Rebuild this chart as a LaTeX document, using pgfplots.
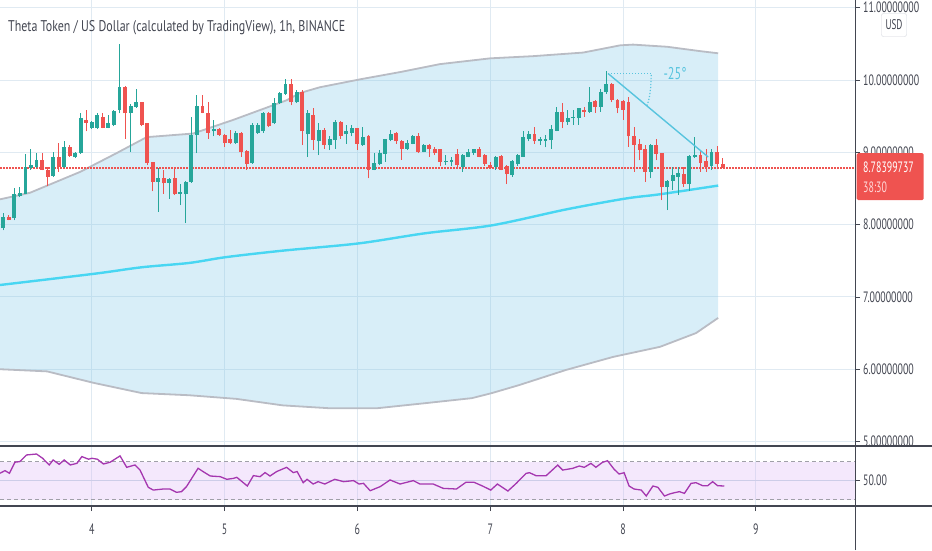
\documentclass[border=0pt]{standalone}
\usepackage{fontspec}
\setmainfont{PT Sans}
\usepackage{graphicx}
\usepackage{pgfplots}
\pgfplotsset{compat=1.18}
\usepackage{pgfplotstable}

\definecolor{cgreen}{RGB}{38,166,154}
\definecolor{cred}{RGB}{239,83,80}
\definecolor{gridc}{RGB}{224,234,242}
\definecolor{bandline}{RGB}{185,188,196}
\definecolor{bandfill}{RGB}{125,198,232}
\definecolor{midc}{RGB}{72,214,242}
\definecolor{trendc}{RGB}{88,196,222}
\definecolor{txtc}{RGB}{67,70,81}
\definecolor{sepc}{RGB}{67,70,81}
\definecolor{rsic}{RGB}{165,55,175}
\definecolor{rsifill}{RGB}{218,178,245}
\definecolor{rsimid}{RGB}{205,205,232}
\definecolor{rsidash}{RGB}{160,160,168}
\definecolor{usdborder}{RGB}{209,212,220}
\definecolor{pinkw}{RGB}{255,214,214}

\newcommand\sq[1]{\scalebox{0.66}[1]{#1}}

% green (up) candles: hour open high low close
\pgfplotstableread{
t O H L C
80 7.95 8.16 7.92 8.11
82 8.09 8.50 8.06 8.43
83 8.39 8.52 8.38 8.44
84 8.43 8.98 8.42 8.80
85 8.78 9.05 8.76 8.83
86 8.80 8.99 8.79 8.90
89 8.67 9.01 8.66 8.94
91 8.80 9.15 8.79 9.08
93 8.93 9.01 8.92 8.99
94 8.99 9.54 8.98 9.47
96 9.33 9.44 9.32 9.42
97 9.33 9.54 9.32 9.52
99 9.34 9.52 9.33 9.40
100 9.38 9.59 9.36 9.57
101 9.59 10.50 9.54 9.90
103 9.54 9.67 9.01 9.64
104 9.63 9.87 9.62 9.69
108 8.59 8.78 8.18 8.65
110 8.58 8.64 8.36 8.63
112 8.43 8.56 8.27 8.45
113 8.42 8.60 8.02 8.59
114 8.59 9.49 8.58 9.24
115 9.24 9.79 8.99 9.64
118 9.29 9.45 9.22 9.32
122 9.13 9.29 9.12 9.27
125 8.85 9.40 8.84 9.38
126 9.27 9.41 9.26 9.38
127 9.29 9.56 9.27 9.55
129 9.40 9.75 9.39 9.68
130 9.68 9.83 9.67 9.82
131 9.81 10.01 9.79 9.94
133 9.69 9.86 9.68 9.84
135 9.25 9.59 8.94 9.54
137 9.15 9.40 8.96 9.31
139 9.10 9.22 9.03 9.18
140 9.17 9.45 9.05 9.42
142 9.25 9.38 9.12 9.30
143 9.27 9.38 9.22 9.33
145 9.10 9.35 9.09 9.21
147 8.76 8.99 8.75 8.85
148 8.84 9.03 8.82 8.99
149 8.98 9.19 8.87 9.18
150 9.17 9.31 9.15 9.26
153 9.05 9.17 9.03 9.13
154 9.12 9.24 9.11 9.23
156 9.01 9.11 9.00 9.10
160 8.86 8.96 8.82 8.88
161 8.87 8.94 8.81 8.90
163 8.80 8.97 8.73 8.96
164 8.94 9.05 8.93 9.01
165 8.99 9.05 8.96 9.04
169 8.80 8.95 8.76 8.94
172 8.69 8.89 8.66 8.88
173 8.84 8.97 8.81 8.96
174 8.94 9.29 8.94 9.21
175 9.19 9.30 9.15 9.25
177 9.15 9.21 9.10 9.19
178 9.16 9.24 9.07 9.19
179 9.17 9.38 9.05 9.32
180 9.30 9.63 9.29 9.56
182 9.42 9.59 9.38 9.48
183 9.47 9.59 9.38 9.49
184 9.47 9.62 9.38 9.61
186 9.56 9.91 9.55 9.70
188 9.63 9.88 9.56 9.84
189 9.83 10.12 9.81 9.95
197 8.73 9.11 8.64 9.10
200 8.52 8.62 8.20 8.61
201 8.61 8.80 8.48 8.69
202 8.66 8.80 8.41 8.71
204 8.56 8.96 8.47 8.95
205 8.93 9.21 8.92 8.96
208 8.81 9.05 8.76 9.01
}\upc

% red (down) candles: hour open high low close
\pgfplotstableread{
t O H L C
81 8.11 8.13 8.06 8.07
87 8.90 8.99 8.75 8.76
88 8.76 8.80 8.53 8.66
90 8.94 9.13 8.73 8.80
92 9.08 9.10 8.94 8.95
95 9.45 9.59 9.29 9.41
98 9.49 9.54 9.33 9.34
102 9.90 9.92 9.19 9.54
105 9.69 9.70 9.36 9.38
106 9.40 9.41 8.82 8.85
107 8.87 8.87 8.46 8.59
109 8.65 8.76 8.43 8.57
111 8.64 8.80 8.41 8.42
116 9.64 9.79 9.54 9.55
117 9.55 9.69 9.19 9.27
119 9.32 9.33 9.23 9.24
120 9.24 9.26 9.08 9.13
121 9.18 9.31 9.11 9.13
123 9.27 9.28 8.94 9.01
124 9.02 9.03 8.76 8.84
128 9.55 9.56 9.35 9.36
132 9.94 10.01 9.65 9.69
134 9.84 9.86 9.10 9.29
136 9.52 9.62 9.03 9.17
138 9.31 9.33 9.05 9.10
141 9.42 9.43 9.19 9.23
144 9.33 9.34 9.03 9.12
146 9.23 9.24 8.64 8.76
151 9.27 9.28 9.12 9.15
152 9.16 9.17 8.90 9.05
155 9.23 9.27 8.99 9.01
157 9.10 9.11 8.94 9.04
158 9.05 9.07 8.96 8.99
159 9.04 9.05 8.81 8.87
162 8.98 9.05 8.80 8.82
166 9.04 9.07 8.93 8.94
167 8.96 8.97 8.81 8.84
168 8.83 8.86 8.78 8.79
170 8.95 8.96 8.75 8.76
171 8.81 8.82 8.56 8.70
176 9.25 9.35 9.12 9.15
181 9.56 9.68 9.33 9.42
185 9.59 9.63 9.49 9.56
187 9.71 9.73 9.55 9.63
190 9.95 9.96 9.69 9.73
191 9.73 9.74 9.54 9.61
192 9.71 9.72 9.45 9.59
193 9.69 9.76 9.08 9.22
194 9.23 9.35 8.73 9.10
195 9.11 9.19 8.89 9.03
196 9.05 9.10 8.59 8.73
198 9.10 9.18 8.89 8.98
199 8.99 8.99 8.34 8.52
203 8.70 8.80 8.52 8.56
206 8.96 9.03 8.73 8.85
207 8.88 9.04 8.73 8.80
209 9.01 9.09 8.78 8.84
210 8.84 8.92 8.78 8.784
}\dnc

\pgfplotstableread{
t p
79.4 8.35
84.8 8.44
93.9 8.73
100.5 8.99
105.9 9.21
114.3 9.26
121.6 9.45
131.2 9.72
133.6 9.82
137.2 9.90
144.5 10.01
151.7 10.11
158.9 10.22
168.0 10.30
175.7 10.33
184.8 10.38
191.5 10.48
193.8 10.49
200.0 10.46
205.9 10.40
209.2 10.37
}\upband

\pgfplotstableread{
t p
79.4 6.00
87.9 5.97
96.4 5.81
105.0 5.67
113.6 5.64
122.1 5.59
130.5 5.50
139.0 5.46
147.5 5.46
156.2 5.53
164.7 5.60
168.3 5.67
173.2 5.78
181.7 5.99
190.2 6.17
198.7 6.31
205.2 6.50
209.2 6.71
}\lowband

% band outline: upper edge left to right, then lower edge right to left
\pgfplotstableread{
t p
79.4 8.35
84.8 8.44
93.9 8.73
100.5 8.99
105.9 9.21
114.3 9.26
121.6 9.45
131.2 9.72
133.6 9.82
137.2 9.90
144.5 10.01
151.7 10.11
158.9 10.22
168.0 10.30
175.7 10.33
184.8 10.38
191.5 10.48
193.8 10.49
200.0 10.46
205.9 10.40
209.2 10.37
209.2 6.71
205.2 6.50
198.7 6.31
190.2 6.17
181.7 5.99
173.2 5.78
168.3 5.67
164.7 5.60
156.2 5.53
147.5 5.46
139.0 5.46
130.5 5.50
122.1 5.59
113.6 5.64
105.0 5.67
96.4 5.81
87.9 5.97
79.4 6.00
}\bandpoly

\pgfplotstableread{
t p
79.4 7.165
96.4 7.32
105.0 7.41
113.6 7.47
120.2 7.55
130.5 7.64
144.2 7.74
156.2 7.88
168.3 7.99
181.7 8.21
192.4 8.36
198.7 8.42
209.2 8.54
}\basisband

\pgfplotstableread{
t r
79.4 57.9
80.3 60.7
81.1 57.9
82.1 69.6
83.0 70.3
84.2 77.3
86.0 78.3
87.1 73.8
88.3 66.7
89.0 72.0
90.1 67.4
91.0 72.0
92.1 66.7
93.3 68.4
94.2 75.6
95.4 72.8
96.0 73.8
97.0 72.8
98.1 67.7
99.3 69.6
101.1 76.3
102.3 64.2
103.8 66.7
104.7 61.4
106.2 43.0
107.1 40.1
108.9 41.2
110.1 41.2
111.3 37.7
112.2 38.4
113.1 43.7
115.2 63.2
116.1 59.7
117.4 55.0
119.2 54.3
120.4 51.5
121.6 52.5
122.2 53.6
124.1 44.4
125.2 55.4
126.4 54.3
127.3 58.6
128.2 55.0
129.4 59.7
131.2 64.2
132.4 58.6
133.1 59.7
134.2 47.9
134.9 51.5
136.0 46.5
136.9 49.0
138.1 46.5
139.9 51.5
141.5 49.0
143.3 50.1
144.3 46.5
145.1 47.2
146.3 39.4
148.1 43.7
149.9 50.8
151.7 46.5
154.1 50.1
155.3 46.5
157.7 46.5
159.5 41.9
161.9 41.2
163.6 48.3
165.1 48.3
166.6 44.4
168.1 40.1
169.3 46.5
171.2 39.1
172.7 47.2
174.5 57.8
175.1 58.5
176.3 55.3
178.1 55.3
180.2 66.6
181.1 61.3
182.9 63.1
184.1 65.6
185.0 64.2
186.2 68.4
187.1 64.2
188.3 69.5
189.2 71.2
190.4 62.1
191.3 57.1
192.2 58.5
193.1 44.4
194.0 41.2
195.3 40.1
196.2 33.8
197.4 44.4
198.3 43.0
199.5 33.8
200.4 35.9
201.3 37.3
202.2 38.4
203.1 36.6
204.3 47.2
205.2 47.9
206.4 44.7
207.3 44.7
208.2 49.0
209.1 44.7
210.3 44.4
}\rsidata

\begin{document}
\begin{tikzpicture}

% ---------------- main price pane ----------------
\begin{axis}[
  at={(0pt,104pt)}, anchor=south west, scale only axis,
  width=855pt, height=446pt,
  xmin=79.4, xmax=233.93, ymin=4.938, ymax=11.107,
  axis line style={draw=none},
  xtick={96,120,144,168,192,216}, xticklabels={},
  xtick style={draw=none},
  ytick={5,6,7,8,9,10,11},
  yticklabels={\sq{5.00000000},\sq{6.00000000},\sq{7.00000000},\sq{8.00000000},\sq{9.00000000},\sq{10.00000000},\sq{11.00000000}},
  ytick pos=right, yticklabel pos=right,
  tick align=outside, major tick length=5pt,
  ytick style={draw=txtc, line width=0.8pt},
  yticklabel style={font=\fontsize{15}{16}\selectfont, text=txtc, anchor=west, inner sep=0pt, xshift=3pt},
  grid=major, major grid style={draw=gridc, line width=1pt},
]
\addplot[fill=bandfill, fill opacity=0.3, draw=none, forget plot] table[x=t, y=p] {\bandpoly} -- cycle;
\addplot[draw=bandline, line width=1.8pt, forget plot] table[x=t, y=p] {\upband};
\addplot[draw=bandline, line width=1.8pt, forget plot] table[x=t, y=p] {\lowband};
\addplot[draw=midc, line width=2.4pt, smooth, forget plot] table[x=t, y=p] {\basisband};

% current price line
\addplot[draw=cred, line width=1.2pt, dash pattern=on 1.5pt off 1.5pt, forget plot] coordinates {(79.4,8.784) (233.93,8.784)};

% wicks
\addplot[draw=none, forget plot, error bars/.cd, y dir=plus, y explicit, error mark=none,
  error bar style={draw=cgreen, line width=1pt}]
  table[x=t, y=L, y error expr=\thisrow{H}-\thisrow{L}] {\upc};
\addplot[draw=none, forget plot, error bars/.cd, y dir=plus, y explicit, error mark=none,
  error bar style={draw=cred, line width=1pt}]
  table[x=t, y=L, y error expr=\thisrow{H}-\thisrow{L}] {\dnc};
% bodies
\addplot[draw=none, forget plot, error bars/.cd, y dir=plus, y explicit, error mark=none,
  error bar style={draw=cgreen, line width=3.9pt}]
  table[x=t, y=O, y error expr={max(\thisrow{C}-\thisrow{O},0.012)}] {\upc};
\addplot[draw=none, forget plot, error bars/.cd, y dir=plus, y explicit, error mark=none,
  error bar style={draw=cred, line width=3.9pt}]
  table[x=t, y=C, y error expr={max(\thisrow{O}-\thisrow{C},0.012)}] {\dnc};

% trend angle drawing
\addplot[draw=trendc, line width=1.4pt, forget plot] coordinates {(189.3,10.09) (207.4,8.935)};
\addplot[draw=trendc, line width=1.2pt, dash pattern=on 1.2pt off 1.8pt, forget plot] coordinates {(189.3,10.09) (197.2,10.09)};
\addplot[draw=trendc, line width=1.2pt, dash pattern=on 1.2pt off 1.8pt, smooth, forget plot] coordinates {(197.1,10.07) (197.0,9.90) (196.7,9.74) (196.3,9.64)};
\node[text=trendc, font=\fontsize{17}{18}\selectfont, inner sep=0pt] at (axis cs:201.4,10.09) {\scalebox{0.72}[1]{-25°}};
\end{axis}

% ---------------- RSI pane ----------------
\begin{axis}[
  at={(0pt,44pt)}, anchor=south west, scale only axis,
  width=855pt, height=60pt,
  xmin=79.4, xmax=233.93, ymin=23.2, ymax=86.8,
  axis line style={draw=none},
  xtick={96,120,144,168,192,216},
  xticklabels={\sq{4},\sq{5},\sq{6},\sq{7},\sq{8},\sq{9}},
  ytick={50}, yticklabels={\sq{50.00}},
  xtick pos=lower, ytick pos=right, yticklabel pos=right,
  tick align=outside, major tick length=5pt,
  tick style={draw=txtc, line width=0.8pt},
  xmajorgrids, major grid style={draw=gridc, line width=1pt},
  yticklabel style={font=\fontsize{15}{16}\selectfont, text=txtc, anchor=west, inner sep=0pt, xshift=3pt},
  xticklabel style={font=\fontsize{15}{16}\selectfont, text=txtc, anchor=north, inner sep=0pt, yshift=-13pt},
]
\addplot[draw=none, fill=rsifill, fill opacity=0.3, forget plot] coordinates {(79.4,30) (233.93,30) (233.93,70) (79.4,70)} -- cycle;
\addplot[draw=rsidash, line width=1pt, dash pattern=on 4pt off 3pt, forget plot] coordinates {(79.4,70) (233.93,70)};
\addplot[draw=rsidash, line width=1pt, dash pattern=on 4pt off 3pt, forget plot] coordinates {(79.4,30) (233.93,30)};
\addplot[draw=rsimid, line width=1pt, forget plot] coordinates {(79.4,50) (233.93,50)};
\addplot[draw=rsic, line width=1.3pt, forget plot] table[x=t, y=r] {\rsidata};
\end{axis}

% pane separators and price scale line
\draw[sepc, line width=1.8pt] (0pt,104pt) -- (932pt,104pt);
\draw[sepc, line width=1.8pt] (0pt,44pt) -- (932pt,44pt);
\draw[sepc, line width=1pt] (855.5pt,0pt) -- (855.5pt,550pt);

% title
\node[anchor=base west, text=txtc, inner sep=0pt] at (8pt,518pt)
  {\resizebox{337pt}{\height}{\fontsize{15.5}{17}\selectfont Theta Token / US Dollar (calculated by TradingView), 1h, BINANCE}};

% USD badge
\node[draw=usdborder, fill=white, rounded corners=2pt, text=txtc, minimum width=25pt, minimum height=23pt, inner sep=0pt,
  font=\fontsize{14}{15}\selectfont] at (894pt,525pt) {\sq{USD}};

% last price badge
\node[fill=cred, rounded corners=1.5pt, minimum width=67pt, minimum height=47pt, anchor=north west, inner sep=0pt] at (856.5pt,397pt) {};
\node[anchor=west, text=white, inner sep=0pt, font=\fontsize{15}{16}\selectfont] at (863pt,383pt) {\sq{8.78399737}};
\node[anchor=west, text=pinkw, inner sep=0pt, font=\fontsize{15}{16}\selectfont] at (863pt,363pt) {\sq{38:30}};

\pgfresetboundingbox
\path[use as bounding box] (0pt,0pt) rectangle (932pt,550pt);
\end{tikzpicture}
\end{document}
